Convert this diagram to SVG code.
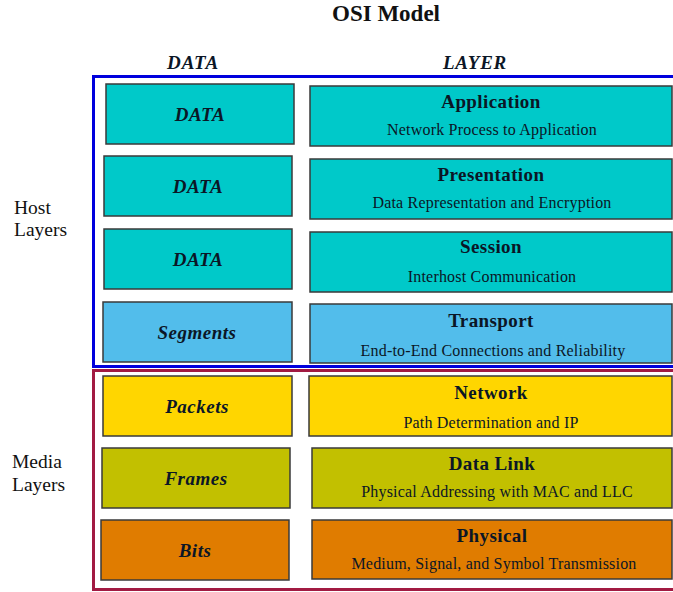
<svg xmlns="http://www.w3.org/2000/svg" width="673" height="592" viewBox="0 0 673 592">
<style>
text{font-family:"Liberation Serif","Times New Roman",serif;fill:#0b1626}
.hdr{font-size:19px;font-weight:bold;font-style:italic;text-anchor:middle;letter-spacing:0.8px}
.side{font-size:19.5px;fill:#111}
.lab{font-size:19px;font-weight:bold;font-style:italic;text-anchor:middle;letter-spacing:0.5px}
.ttl{font-size:19px;font-weight:bold;text-anchor:middle;letter-spacing:0.4px}
.sub{font-size:16px;text-anchor:middle;letter-spacing:0.2px}
rect.b{stroke:#3a3a3a;stroke-width:1.5}
.teal{fill:#00C9C9}
.sky{fill:#52BDEB}
.yel{fill:#FFD600}
.oli{fill:#C2C000}
.ora{fill:#E07C00}
</style>
<rect width="673" height="592" fill="#ffffff"/>
<text x="386" y="21" style="font-size:23px;font-weight:bold;text-anchor:middle;fill:#111">OSI Model</text>
<text class="hdr" x="193" y="69">DATA</text>
<text class="hdr" x="475" y="69">LAYER</text>
<g id="host-frame">
<rect x="93.5" y="76.5" width="600" height="290" fill="none" stroke="#0000DD" stroke-width="3"/>
<text class="side" x="14" y="214">Host</text>
<text class="side" x="14" y="236">Layers</text>
</g>
<g id="media-frame">
<rect x="93.5" y="370.5" width="600" height="219" fill="none" stroke="#A21A42" stroke-width="3"/>
<text class="side" x="12" y="468">Media</text>
<text class="side" x="12" y="491">Layers</text>
</g>
<g id="data-application">
<rect class="b teal" x="106" y="84" width="188" height="60"/>
<text class="lab" x="200" y="121">DATA</text>
</g>
<g id="application">
<rect class="b teal" x="310" y="86" width="362" height="60"/>
<text class="ttl" x="491" y="108">Application</text>
<text class="sub" x="492" y="135">Network Process to Application</text>
</g>
<g id="data-presentation">
<rect class="b teal" x="104" y="156" width="188" height="60"/>
<text class="lab" x="198" y="193">DATA</text>
</g>
<g id="presentation">
<rect class="b teal" x="310" y="159" width="362" height="60"/>
<text class="ttl" x="491" y="181">Presentation</text>
<text class="sub" x="492" y="208">Data Representation and Encryption</text>
</g>
<g id="data-session">
<rect class="b teal" x="104" y="229" width="188" height="60"/>
<text class="lab" x="198" y="266">DATA</text>
</g>
<g id="session">
<rect class="b teal" x="310" y="232" width="362" height="60"/>
<text class="ttl" x="491" y="253">Session</text>
<text class="sub" x="492" y="282">Interhost Communication</text>
</g>
<g id="segments">
<rect class="b sky" x="103" y="302" width="189" height="60"/>
<text class="lab" x="197" y="339">Segments</text>
</g>
<g id="transport">
<rect class="b sky" x="310" y="304" width="362" height="59"/>
<text class="ttl" x="491" y="327">Transport</text>
<text class="sub" x="493" y="356">End-to-End Connections and Reliability</text>
</g>
<g id="packets">
<rect class="b yel" x="103" y="376" width="189" height="60"/>
<text class="lab" x="197" y="413">Packets</text>
</g>
<g id="network">
<rect class="b yel" x="309" y="376" width="363" height="60"/>
<text class="ttl" x="491" y="399">Network</text>
<text class="sub" x="491" y="428">Path Determination and IP</text>
</g>
<g id="frames">
<rect class="b oli" x="102" y="448" width="188" height="60"/>
<text class="lab" x="196" y="485">Frames</text>
</g>
<g id="data-link">
<rect class="b oli" x="312" y="448" width="360" height="60"/>
<text class="ttl" x="492" y="470">Data Link</text>
<text class="sub" x="497" y="497">Physical Addressing with MAC and LLC</text>
</g>
<g id="bits">
<rect class="b ora" x="101" y="520" width="188" height="60"/>
<text class="lab" x="195" y="557">Bits</text>
</g>
<g id="physical">
<rect class="b ora" x="312" y="520" width="360" height="59"/>
<text class="ttl" x="492" y="542">Physical</text>
<text class="sub" x="494" y="569">Medium, Signal, and Symbol Transmission</text>
</g>
</svg>
